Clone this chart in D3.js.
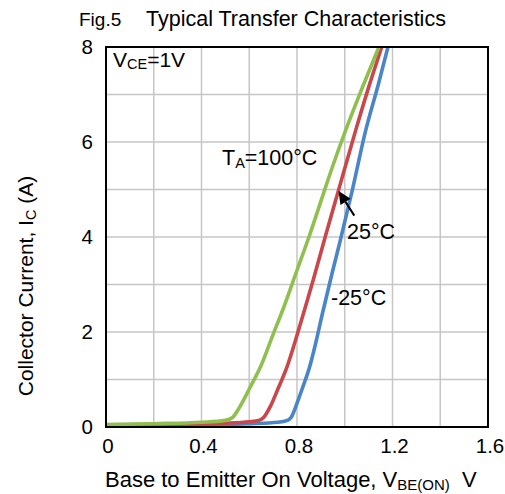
<!DOCTYPE html>
<html>
<head>
<meta charset="utf-8">
<script src="https://cdn.jsdelivr.net/npm/d3@7"></script>
<style>
  html, body { margin: 0; padding: 0; background: #fff; }
  text { font-family: "Liberation Sans", Arial, sans-serif; fill: #000; }
</style>
</head>
<body>
<svg id="chart" width="505" height="494"></svg>
<script>
// ---- data ----
const xTickLabels = [0, 0.4, 0.8, 1.2, 1.6];
const yTickLabels = [0, 2, 4, 6, 8];
const xGrid = [0.2, 0.4, 0.6, 0.8, 1.0, 1.2, 1.4];
const yGrid = [1, 2, 3, 4, 5, 6, 7];

// [VBE(ON) V, IC A]
const curve100 = [[0,0.05],[0.2,0.07],[0.4,0.1],[0.5,0.14],[0.53,0.2],[0.56,0.42],[0.6,0.8],[0.65,1.3],[0.7,1.95],[0.743,2.5],[0.8,3.3],[0.85,4.0],[0.9,4.75],[0.95,5.5],[1.004,6.25],[1.07,7.1],[1.143,8.0]];
const curve25  = [[0,0.04],[0.3,0.06],[0.5,0.08],[0.6,0.11],[0.64,0.14],[0.66,0.2],[0.69,0.45],[0.72,0.8],[0.757,1.25],[0.8,1.93],[0.831,2.46],[0.87,3.13],[0.918,4.0],[0.972,4.95],[1.046,6.25],[1.1,7.15],[1.155,8.0]];
const curveM25 = [[0,0.03],[0.4,0.05],[0.6,0.07],[0.72,0.1],[0.76,0.14],[0.775,0.2],[0.8,0.5],[0.825,0.85],[0.852,1.25],[0.88,1.8],[0.907,2.4],[0.95,3.3],[0.98,3.9],[1.03,4.95],[1.088,6.25],[1.14,7.2],[1.181,8.0]];
const seriesNames = ["100°C", "25°C", "-25°C"];
const seriesColors = ["#8fbf4e", "#c9474b", "#4a85c7"];

// ---- layout ----
const svg = d3.select("#chart");
const L = 106, R = 488, T = 47, B = 427;
const x = d3.scaleLinear().domain([0, 1.6]).range([L, R]);
const y = d3.scaleLinear().domain([0, 8]).range([B, T]);

// grid
const g = svg.append("g");
g.selectAll("line.vx").data(xGrid).enter().append("line")
  .attr("x1", d => x(d)).attr("x2", d => x(d)).attr("y1", T).attr("y2", B)
  .attr("stroke", "#c6c6c6").attr("stroke-width", 1.5);
g.selectAll("line.hy").data(yGrid).enter().append("line")
  .attr("y1", d => y(d)).attr("y2", d => y(d)).attr("x1", L).attr("x2", R)
  .attr("stroke", "#c6c6c6").attr("stroke-width", 1.5);

// curves
const line = d3.line().x(d => x(d[0])).y(d => y(d[1])).curve(d3.curveMonotoneX);
svg.append("clipPath").attr("id", "clip").append("rect")
  .attr("x", L).attr("y", T).attr("width", R - L).attr("height", B - T);
const curves = [curve100, curve25, curveM25];
[2, 1, 0].forEach(i => {
  svg.append("path").datum(curves[i])
    .attr("d", line).attr("fill", "none")
    .attr("stroke", seriesColors[i]).attr("stroke-width", 3.6)
    .attr("stroke-linejoin", "round").attr("stroke-linecap", "round")
    .attr("clip-path", "url(#clip)");
});

// frame
svg.append("rect").attr("x", L).attr("y", T).attr("width", R - L).attr("height", B - T)
  .attr("fill", "none").attr("stroke", "#000").attr("stroke-width", 2);

// tick labels
svg.selectAll("text.xt").data(xTickLabels).enter().append("text")
  .attr("x", d => x(d) + 2).attr("y", 453).attr("text-anchor", "middle")
  .attr("font-size", 20.5).text(d => d === 0 ? "0" : d3.format(".1f")(d));
svg.selectAll("text.yt").data(yTickLabels).enter().append("text")
  .attr("x", 93).attr("y", d => y(d) + 7).attr("text-anchor", "end")
  .attr("font-size", 20.5).text(d => d);

// title
svg.append("text").attr("x", 79).attr("y", 26).attr("font-size", 19).text("Fig.5");
svg.append("text").attr("x", 146).attr("y", 26).attr("font-size", 21.5).text("Typical Transfer Characteristics");

// x axis title
const xt = svg.append("text").attr("x", 105).attr("y", 487).attr("font-size", 22);
xt.append("tspan").text("Base to Emitter On Voltage, V");
xt.append("tspan").attr("font-size", 15).attr("dy", 3).text("BE(ON)");
xt.append("tspan").attr("dy", -3).text("\u00a0\u00a0V");

// y axis title
const yt = svg.append("text").attr("transform", "translate(33,286) rotate(-90)")
  .attr("text-anchor", "middle").attr("font-size", 21);
yt.append("tspan").text("Collector Current, I");
yt.append("tspan").attr("font-size", 14.5).attr("dy", 3).text("C");
yt.append("tspan").attr("dy", -3).text(" (A)");

// VCE label
const vce = svg.append("text").attr("x", 113).attr("y", 67).attr("font-size", 21);
vce.append("tspan").text("V");
vce.append("tspan").attr("font-size", 14.5).attr("dy", 2).text("CE");
vce.append("tspan").attr("dy", -2).text("=1V");

// series labels
const ta = svg.append("text").attr("x", 222).attr("y", 165).attr("font-size", 21.5);
ta.append("tspan").text("T");
ta.append("tspan").attr("font-size", 14.5).attr("dy", 3).text("A");
ta.append("tspan").attr("dy", -3).text("=" + seriesNames[0]);
svg.append("text").attr("x", 347).attr("y", 239).attr("font-size", 21.5).text(seriesNames[1]);
svg.append("text").attr("x", 331).attr("y", 305).attr("font-size", 21.5).text(seriesNames[2]);

// arrow pointing to 25°C curve
const tip = [x(0.974), y(4.97)], tail = [x(1.040), y(4.45)];
const ang = Math.atan2(tip[1] - tail[1], tip[0] - tail[0]);
const hl = 13, hw = 6;
const base = [tip[0] - hl * Math.cos(ang), tip[1] - hl * Math.sin(ang)];
svg.append("line").attr("x1", tail[0]).attr("y1", tail[1]).attr("x2", base[0]).attr("y2", base[1])
  .attr("stroke", "#000").attr("stroke-width", 2);
svg.append("path").attr("d", d3.line()([
  tip,
  [base[0] + hw * Math.sin(ang), base[1] - hw * Math.cos(ang)],
  [base[0] - hw * Math.sin(ang), base[1] + hw * Math.cos(ang)]
]) + "Z").attr("fill", "#000");
</script>
</body>
</html>
